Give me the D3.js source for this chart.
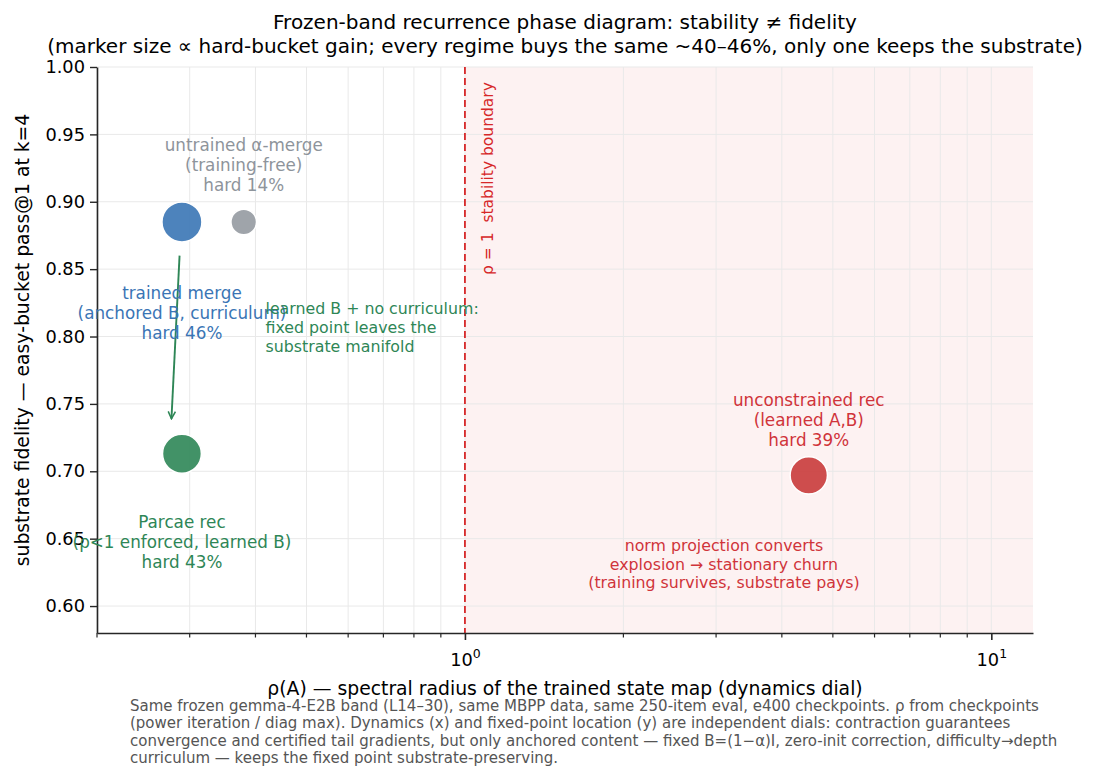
<!DOCTYPE html>
<html>
<head>
<meta charset="utf-8">
<script src="https://cdn.jsdelivr.net/npm/d3@7"></script>
<style>
  body { margin: 0; background: #fff; }
  svg { font-family: "DejaVu Sans", sans-serif; }
  .grid line { stroke: #e9e9e9; stroke-width: 1; }
  .axis path, .axis line { stroke: #262626; }
</style>
</head>
<body>
<svg id="chart" width="1094" height="783"></svg>
<script>
// regimes
const regimes = ['trained merge', 'untrained α-merge', 'Parcae rec', 'unconstrained rec']
const rho = [0.29, 0.38, 0.29, 4.5]
const fidelity = [0.885, 0.885, 0.713, 0.697]
const hardGain = [46, 14, 43, 39]
const colors = ['#3a75b5', '#959aa1', '#2e8656', '#c93b3b']
const labelColors = ['#3a75b5', '#8e949b', '#2e8656', '#d0343a']
const labelLines = [
  ['trained merge', '(anchored B, curriculum)', 'hard 46%'],
  ['untrained α-merge', '(training-free)', 'hard 14%'],
  ['Parcae rec', '(ρ<1 enforced, learned B)', 'hard 43%'],
  ['unconstrained rec', '(learned A,B)', 'hard 39%']
]
// label anchor in data coordinates (baseline of the middle line)
const labelRho = [0.29, 0.38, 0.29, 4.5]
const labelFid = [0.8130, 0.9228, 0.6431, 0.7336]

const yTicks = [0.60, 0.65, 0.70, 0.75, 0.80, 0.85, 0.90, 0.95, 1.00]
const xMajor = [1, 10]
const xMinor = [0.2, 0.3, 0.4, 0.5, 0.6, 0.7, 0.8, 0.9, 2, 3, 4, 5, 6, 7, 8, 9]

// drift arrow: trained merge -> learned B without curriculum
const arrowFrom = [0.287, 0.86]
const arrowTo = [0.277, 0.739]

const noteGreen = ['learned B + no curriculum:', 'fixed point leaves the', 'substrate manifold']
const noteRed = ['norm projection converts', 'explosion → stationary churn', '(training survives, substrate pays)']
const footnote = [
  'Same frozen gemma-4-E2B band (L14–30), same MBPP data, same 250-item eval, e400 checkpoints. ρ from checkpoints',
  '(power iteration / diag max). Dynamics (x) and fixed-point location (y) are independent dials: contraction guarantees',
  'convergence and certified tail gradients, but only anchored content — fixed B=(1−α)I, zero-init correction, difficulty→depth',
  'curriculum — keeps the fixed point substrate-preserving.'
]

const margin = { top: 67, right: 61, bottom: 150, left: 97 }
const width = 1094 - margin.left - margin.right
const height = 783 - margin.top - margin.bottom

const svg = d3.select('#chart')
const g = svg.append('g').attr('id', 'graph-g')
  .attr('transform', `translate(${margin.left},${margin.top})`)

const x = d3.scaleLog().domain([0.2, 12]).range([0, width])
const y = d3.scaleLinear().domain([0.58, 1.0]).range([height, 0])
// marker area grows linearly with the hard-bucket gain
const area = d3.scaleLinear().domain([0, 46]).range([60, 400])

// unstable region
g.append('rect')
  .attr('x', x(1)).attr('y', 0)
  .attr('width', width - x(1)).attr('height', height)
  .attr('fill', '#fdf2f2')

// grid
const grid = g.append('g').attr('class', 'grid')
grid.selectAll('.gx').data(xMajor.concat(xMinor)).join('line')
  .attr('x1', d => x(d)).attr('x2', d => x(d))
  .attr('y1', 0).attr('y2', height)
grid.selectAll('.gy').data(yTicks).join('line')
  .attr('x1', 0).attr('x2', width)
  .attr('y1', d => y(d)).attr('y2', d => y(d))

// stability boundary
g.append('line')
  .attr('x1', x(1)).attr('x2', x(1))
  .attr('y1', 0).attr('y2', height)
  .attr('stroke', '#d62728').attr('stroke-width', 1.8)
  .attr('stroke-dasharray', '7,4')
g.append('text')
  .attr('transform', `translate(${x(1) + 28},208) rotate(-90)`)
  .attr('fill', '#d62728').attr('font-size', 15.5)
  .style('white-space', 'pre')
  .text('ρ = 1  stability boundary')

// axes
const yAxis = g.append('g').attr('class', 'axis')
  .call(d3.axisLeft(y).tickValues(yTicks).tickFormat(d3.format('.2f')).tickSize(7).tickPadding(5).tickSizeOuter(0))
yAxis.attr('font-size', 17.8).attr('font-family', null)
yAxis.selectAll('.tick text').attr('fill', '#000')
yAxis.select('.domain').attr('stroke-width', 1.6)
yAxis.selectAll('.tick line').attr('stroke-width', 1.4)

const xAxis = g.append('g').attr('class', 'axis')
  .attr('transform', `translate(0,${height})`)
  .call(d3.axisBottom(x).tickValues(xMajor).tickFormat('').tickSize(7).tickSizeOuter(0))
xAxis.attr('font-size', 17.8).attr('font-family', null)
xAxis.select('.domain').attr('stroke-width', 1.6)
xAxis.selectAll('.tick line').attr('stroke-width', 1.6)
xAxis.selectAll('.tick text').remove()
xAxis.selectAll('.tick').append('text')
  .attr('y', 33).attr('fill', '#000').attr('text-anchor', 'middle')
  .each(function (d) {
    const t = d3.select(this)
    t.append('tspan').text('10')
    t.append('tspan').attr('dy', -8).attr('font-size', 12.5).text(Math.round(Math.log10(d)))
  })
xAxis.selectAll('.minor').data(xMinor).join('line')
  .attr('class', 'minor')
  .attr('x1', d => x(d)).attr('x2', d => x(d))
  .attr('y1', 0).attr('y2', 4.5)
  .attr('stroke', '#262626').attr('stroke-width', 1.2)

// drift arrow
svg.append('defs').append('marker')
  .attr('id', 'head').attr('viewBox', '0 0 10 10')
  .attr('refX', 9).attr('refY', 5)
  .attr('markerWidth', 9).attr('markerHeight', 9)
  .attr('markerUnits', 'userSpaceOnUse')
  .attr('orient', 'auto')
  .append('path').attr('d', 'M1,1 L9,5 L1,9')
  .attr('fill', 'none').attr('stroke', '#2e8656').attr('stroke-width', 1.7)
g.append('line')
  .attr('x1', x(arrowFrom[0])).attr('y1', y(arrowFrom[1]))
  .attr('x2', x(arrowTo[0])).attr('y2', y(arrowTo[1]))
  .attr('stroke', '#2e8656').attr('stroke-width', 1.9)
  .attr('marker-end', 'url(#head)')

// markers
const pts = regimes.map((name, i) => ({ name, rho: rho[i], fid: fidelity[i], gain: hardGain[i], i }))
g.selectAll('.pt').data(pts).join('circle')
  .attr('class', 'pt')
  .attr('cx', d => x(d.rho)).attr('cy', d => y(d.fid))
  .attr('r', d => Math.sqrt(area(d.gain)))
  .attr('fill', d => colors[d.i]).attr('fill-opacity', 0.9)
  .attr('stroke', '#fff').attr('stroke-width', 1.5)

// labels
const lineH = 20
g.selectAll('.lbl').data(pts).join('text')
  .attr('class', 'lbl')
  .attr('text-anchor', 'middle').attr('font-size', 16.8)
  .attr('fill', d => labelColors[d.i])
  .each(function (d) {
    const t = d3.select(this)
    labelLines[d.i].forEach((s, k) => {
      t.append('tspan')
        .attr('x', x(labelRho[d.i]))
        .attr('y', y(labelFid[d.i]) + (k - 1) * lineH)
        .text(s)
    })
  })

function note (lines, xv, yv, anchor, color, step) {
  const t = g.append('text').attr('text-anchor', anchor).attr('font-size', 15.8).attr('fill', color)
  lines.forEach((s, k) => {
    t.append('tspan').attr('x', x(xv)).attr('y', y(yv) + k * step).text(s)
  })
}
note(noteGreen, 0.418, 0.8167, 'start', '#2e8656', 19)
note(noteRed, 3.105, 0.6408, 'middle', '#d0343a', 18.5)

// titles
const cx = margin.left + width / 2
svg.append('text').attr('x', cx).attr('y', 29).attr('text-anchor', 'middle')
  .attr('font-size', 20).text('Frozen-band recurrence phase diagram: stability ≠ fidelity')
svg.append('text').attr('x', cx).attr('y', 53).attr('text-anchor', 'middle')
  .attr('font-size', 20).text('(marker size ∝ hard-bucket gain; every regime buys the same ~40–46%, only one keeps the substrate)')

svg.append('text').attr('x', cx).attr('y', 695).attr('text-anchor', 'middle')
  .attr('font-size', 18.8).text('ρ(A) — spectral radius of the trained state map (dynamics dial)')
svg.append('text')
  .attr('transform', `translate(29,${margin.top + height / 2 - 10}) rotate(-90)`)
  .attr('text-anchor', 'middle').attr('font-size', 18.8)
  .text('substrate fidelity — easy-bucket pass@1 at k=4')

const foot = svg.append('text').attr('font-size', 15).attr('fill', '#555')
footnote.forEach((s, k) => {
  foot.append('tspan').attr('x', 130).attr('y', 711 + k * 17.3).text(s)
})
</script>
</body>
</html>
